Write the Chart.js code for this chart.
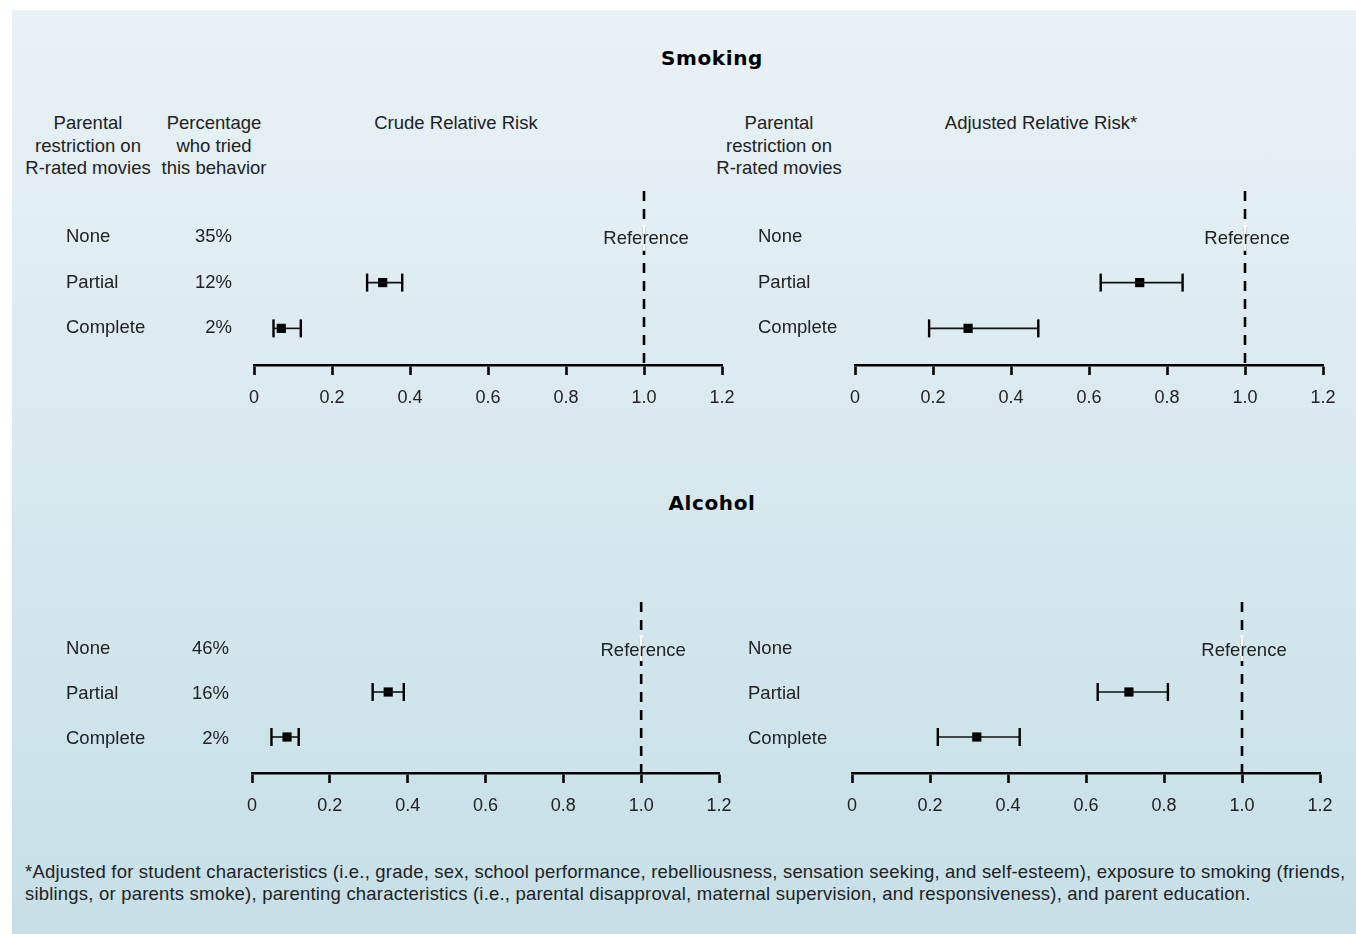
<!DOCTYPE html>
<html>
<head>
<meta charset="utf-8">
<script src="https://cdn.jsdelivr.net/npm/chart.js@4.4.1/dist/chart.umd.min.js"></script>
<style>
  html, body { margin: 0; padding: 0; width: 1356px; height: 934px; overflow: hidden; background: #fff;
    font-family: "Liberation Sans", Arial, sans-serif; color: #222; }
  #bg { position: absolute; left: 12px; top: 10px; width: 1344px; height: 924px;
    background: linear-gradient(to bottom, #e9f2f6 0%, #c6dfe7 100%); }
  .txt { position: absolute; width: 200px; font-size: 18.5px; line-height: 22.5px; text-align: center; white-space: nowrap; }
  .title { position: absolute; left: 562px; width: 300px; font-family: "DejaVu Sans", sans-serif; font-weight: bold;
    font-size: 20px; line-height: 24px; letter-spacing: 0.6px; color: #000; text-align: center; }
  .note { position: absolute; left: 25px; top: 861px; font-size: 18.5px; line-height: 22px; letter-spacing: 0.2px; white-space: nowrap; }
  canvas { position: absolute; }
</style>
</head>
<body>
<div id="bg"></div>

<div class="title" style="top:46px">Smoking</div>
<div class="txt" style="left:-12px;top:112px">Parental<br>restriction on<br>R-rated movies</div>
<div class="txt" style="left:114px;top:112px">Percentage<br>who tried<br>this behavior</div>
<div class="txt" style="left:356px;top:112px">Crude Relative Risk</div>
<div class="txt" style="left:679px;top:112px">Parental<br>restriction on<br>R-rated movies</div>
<div class="txt" style="left:941px;top:112px">Adjusted Relative Risk*</div>

<div class="title" style="top:491px">Alcohol</div>

<canvas id="smokingCrude" width="780" height="260" style="left:0;top:150px"></canvas>
<canvas id="smokingAdj" width="616" height="260" style="left:740px;top:150px"></canvas>
<canvas id="alcoholCrude" width="780" height="258" style="left:0;top:560px"></canvas>
<canvas id="alcoholAdj" width="616" height="258" style="left:740px;top:560px"></canvas>

<div class="note">*Adjusted for student characteristics (i.e., grade, sex, school performance, rebelliousness, sensation seeking, and self-esteem), exposure to smoking (friends,<br>siblings, or parents smoke), parenting characteristics (i.e., parental disapproval, maternal supervision, and responsiveness), and parent education.</div>

<script>
//Rows of every panel
const restrictions = ["None", "Partial", "Complete"];
//Percentage who tried the behavior
const smokingTried = [35, 12, 2];
const alcoholTried = [46, 16, 2];
//Relative risks and confidence limits, None is the reference group
const smokingCrudeRR = [1.0, 0.33, 0.07];
const smokingCrudeLow = [null, 0.29, 0.05];
const smokingCrudeHigh = [null, 0.38, 0.12];
const smokingAdjRR = [1.0, 0.73, 0.29];
const smokingAdjLow = [null, 0.63, 0.19];
const smokingAdjHigh = [null, 0.84, 0.47];
const alcoholCrudeRR = [1.0, 0.35, 0.09];
const alcoholCrudeLow = [null, 0.31, 0.05];
const alcoholCrudeHigh = [null, 0.39, 0.12];
const alcoholAdjRR = [1.0, 0.71, 0.32];
const alcoholAdjLow = [null, 0.63, 0.22];
const alcoholAdjHigh = [null, 0.81, 0.43];
//x axis ticks
const xTicks = [0, 0.2, 0.4, 0.6, 0.8, 1.0, 1.2];
const referenceValue = 1.0;
const referenceLabel = "Reference";

const textFont = "18.5px 'Liberation Sans', Arial, sans-serif";
const textColor = "#222";
//rows sit on y = 0,1,2, axis below the last row
const yTop = -1;
const yBottom = 2.8;

function makeChart(id, rr, low, high, tried, layout) {
  const datasets = [];
  //dashed reference line
  datasets.push({
    data: [{ x: referenceValue, y: yTop }, { x: referenceValue, y: yBottom }],
    showLine: true, borderColor: "#000", borderWidth: 2.6, borderDash: [10, 8], pointRadius: 0,
  });
  //confidence intervals with end caps
  rr.forEach((v, i) => {
    if (low[i] == null) return;
    datasets.push({
      data: [{ x: low[i], y: i }, { x: high[i], y: i }],
      showLine: true, borderColor: "#111", borderWidth: 1.6,
      pointStyle: "line", rotation: 90, pointRadius: 9, pointHoverRadius: 9,
      pointBorderWidth: 2.4, pointBorderColor: "#000",
    });
  });
  //point estimates
  datasets.push({
    data: rr.map((v, i) => (low[i] == null ? null : { x: v, y: i })).filter(Boolean),
    pointStyle: "rect", pointRadius: 6.5, pointHoverRadius: 6.5, backgroundColor: "#000", borderWidth: 0,
  });

  //row names, percentages and the Reference label
  const rowLabels = {
    id: "rowLabels",
    afterDatasetsDraw(chart) {
      const ctx = chart.ctx;
      const xs = chart.scales.x, ys = chart.scales.y;
      ctx.save();
      ctx.font = textFont;
      ctx.fillStyle = textColor;
      ctx.textBaseline = "middle";
      restrictions.forEach((name, i) => {
        const py = ys.getPixelForValue(i) + layout.textDy;
        ctx.textAlign = "left";
        ctx.fillText(name, layout.labelX, py);
        if (tried) {
          ctx.textAlign = "right";
          ctx.fillText(tried[i] + "%", layout.pctX, py);
        }
      });
      const rx = xs.getPixelForValue(referenceValue);
      const ry = ys.getPixelForValue(0);
      ctx.fillStyle = "#fff";
      ctx.fillRect(rx - 1.5, ry - 12, 3, 26);
      ctx.fillStyle = textColor;
      ctx.textAlign = "center";
      ctx.fillText(referenceLabel, rx + 2, ry + 2.5 + layout.textDy);
      ctx.restore();
    },
  };

  return new Chart(document.getElementById(id), {
    type: "scatter",
    data: { datasets: datasets },
    plugins: [rowLabels],
    options: {
      responsive: false,
      animation: false,
      layout: { padding: { left: layout.left, right: layout.right, top: layout.top, bottom: 0 } },
      plugins: { legend: { display: false }, tooltip: { enabled: false } },
      scales: {
        x: {
          type: "linear", min: 0, max: 1.2,
          afterBuildTicks: (s) => { s.ticks = xTicks.map((v) => ({ value: v })); },
          afterFit: (s) => { s.height = 45; },
          border: { display: true, color: "#000", width: 2.6 },
          grid: { drawOnChartArea: false, drawTicks: true, tickLength: 10, tickWidth: 2.6, tickColor: "#000" },
          ticks: {
            padding: 12, color: textColor, maxRotation: 0, autoSkip: false,
            font: { family: "'Liberation Sans', Arial, sans-serif", size: 18 },
            callback: (v) => (v === 0 ? "0" : Number(v).toFixed(1)),
          },
        },
        y: { type: "linear", reverse: true, min: yTop, max: yBottom, display: false },
      },
    },
  });
}

makeChart("smokingCrude", smokingCrudeRR, smokingCrudeLow, smokingCrudeHigh, smokingTried,
  { left: 254, right: 58, top: 41, labelX: 66, pctX: 232, textDy: 0 });
makeChart("smokingAdj", smokingAdjRR, smokingAdjLow, smokingAdjHigh, null,
  { left: 115, right: 33, top: 41, labelX: 18, textDy: 0 });
makeChart("alcoholCrude", alcoholCrudeRR, alcoholCrudeLow, alcoholCrudeHigh, alcoholTried,
  { left: 252, right: 61, top: 42, labelX: 66, pctX: 229, textDy: 1.5 });
makeChart("alcoholAdj", alcoholAdjRR, alcoholAdjLow, alcoholAdjHigh, null,
  { left: 112, right: 36, top: 42, labelX: 8, textDy: 1.5 });
</script>
</body>
</html>
